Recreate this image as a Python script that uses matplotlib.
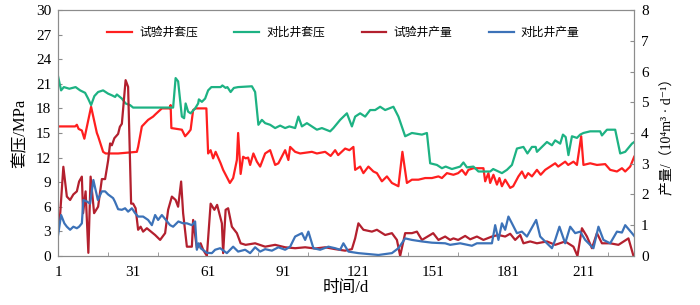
import matplotlib
matplotlib.use("Agg")
import matplotlib.pyplot as plt

# 试验井套压 (MPa)
tp_day = [1, 7.8, 8.5, 9.2, 10.5, 11.5, 14.2, 16.5, 17, 19, 20, 25, 29, 32.5, 33, 34.5, 37, 39, 40, 42.5,
          45.5, 46, 46.3, 50.5, 51.8, 53, 54, 55, 56, 60.3, 61, 62, 63, 64, 66, 67, 69, 69.7, 71, 72.5,
          73, 74, 75, 76, 77, 77.8, 79.1, 80.5, 81.8, 83.8, 85.8, 87.8, 89.1, 91.8, 93.1, 93.8, 95.8, 97.8,
          102.5, 104.5, 107.8, 110, 111.8, 113, 115.8, 117.5, 119.1, 119.8, 121.8, 123.1, 125.1, 127.1,
          128.5, 130.5, 132.5, 134.5, 137.1, 138.7, 140.5, 142.5, 145.1, 147.8, 150.5, 153.1, 154.5, 156.5,
          159.1, 161, 162.5, 164, 165.1, 167.1, 171.1, 171.8, 173.1, 173.8, 175.1, 176.5, 177.5, 178.5,
          179.8, 181.8, 183, 185.1, 186.5, 187.8, 189, 190.5, 192.5, 194, 195.8, 197.8, 199.8, 201, 203.8,
          205, 207.1, 208.5, 210.2, 211.1, 213.8, 216.5, 219.8, 221.8, 224.5, 226.5, 227.8, 229.8, 231.4]
tp_val = [15.8, 15.8, 16.0, 15.5, 15.3, 14.3, 18.2, 15.0, 14.6, 12.7, 12.5, 12.5, 12.6, 12.7, 13.3, 15.8, 16.6, 17.0, 17.3, 18.0,
          18.0, 18.4, 15.6, 15.4, 14.6, 15.0, 15.4, 17.8, 18.0, 18.0, 12.5, 12.9, 11.9, 12.7, 11.3, 10.5, 9.3, 8.9, 9.5, 11.7,
          15.0, 10.0, 12.1, 11.9, 12.0, 11.1, 12.5, 11.5, 10.9, 12.5, 12.9, 11.1, 11.3, 12.9, 11.7, 13.3, 12.7, 12.5,
          12.7, 12.5, 12.7, 12.2, 12.9, 12.3, 13.1, 12.9, 13.3, 10.5, 10.9, 10.1, 10.9, 10.3,
          10.1, 9.1, 9.7, 8.9, 8.5, 12.7, 8.9, 9.3, 9.3, 9.5, 9.5, 9.7, 9.5, 10.1,
          9.9, 10.1, 10.5, 9.9, 10.5, 10.7, 10.7, 9.1, 10.1, 8.9, 9.9, 8.7, 9.5, 8.5,
          9.3, 8.3, 8.5, 9.7, 10.3, 9.5, 10.1, 9.7, 10.5, 9.9, 10.5, 10.9, 11.3, 10.9, 11.5,
          11.1, 11.5, 11.1, 14.6, 11.1, 11.3, 11.1, 11.2, 10.5, 10.3, 10.7, 10.3, 10.9, 12.1]

# 对比井套压 (MPa)
cp_day = [1, 2.2, 3.3, 5.5, 8, 9.8, 11.8, 13, 14.2, 15.5, 17, 19, 21, 22.5, 23.8, 24.5, 26.5, 28, 29.8, 31,
          47, 48, 49, 50.5, 51.4, 52, 53, 54, 55.8, 57, 57.3, 58.5, 59.8, 61, 62.3, 66, 66.7, 68, 68.7, 70,
          71.3, 73, 78.5, 79.8, 81.1, 82.5, 83.8, 85.8, 87.8, 89.8, 91.8, 93.5, 95.8, 97.1, 98.5, 100.5,
          102.5, 104.5, 106.5, 109.8, 111.1, 113.8, 116.5, 118.5, 119.8, 121.8, 123.8, 125.8, 127.8, 129.8,
          131.8, 135.1, 137.1, 139.8, 142.5, 146.5, 148.5, 149.8, 152.5, 154.5, 156, 158.5, 161.8, 163.1,
          164.5, 167.1, 169.1, 173.8, 175, 178.5, 180.5, 182.5, 184.5, 187.1, 188.7, 190.5, 192, 192.5,
          194.5, 196.5, 198.5, 199.8, 201.8, 202.9, 204, 205.1, 206.5, 208.5, 209.8, 211.1, 213.8, 217.8,
          218.5, 220.5, 223.8, 225.8, 227.8, 230.5, 231.4]
cp_val = [21.9, 20.2, 20.6, 20.4, 20.6, 20.2, 19.9, 19.2, 18.4, 19.5, 20.0, 20.2, 19.8, 19.6, 19.4, 19.7, 19.2, 18.6, 18.4, 18.1,
          18.1, 21.7, 21.3, 17.0, 16.8, 18.6, 17.6, 17.4, 18.0, 18.6, 19.1, 18.8, 19.2, 20.2, 20.6, 20.6, 20.8, 20.5, 20.6, 20.0,
          20.5, 20.6, 20.7, 20.0, 16.0, 16.6, 16.2, 16.0, 15.6, 15.9, 15.6, 15.8, 15.6, 17.0, 15.8, 16.2,
          15.8, 15.4, 15.6, 15.2, 15.6, 16.6, 17.4, 15.8, 17.0, 17.4, 17.0, 17.8, 17.8, 18.2,
          17.8, 18.2, 17.0, 14.6, 15.0, 14.8, 15.0, 11.3, 11.1, 10.7, 10.9, 10.6, 10.9, 11.4,
          10.8, 10.9, 10.3, 10.3, 10.6, 10.1, 10.5, 11.1, 13.1, 13.3, 12.5, 13.3, 13.3, 12.7,
          13.3, 13.9, 13.5, 14.1, 13.7, 14.8, 14.5, 12.3, 14.6, 14.4, 14.8, 15.0, 15.2, 15.2,
          14.7, 15.4, 15.4, 12.5, 12.7, 13.7, 13.9]

# 试验井产量 (10^4 m3/d)
tq_day = [1, 1.8, 3.1, 4.5, 5.8, 7.1, 8.5, 9.4, 10.5, 11, 12, 13.1, 14, 15.4, 17, 18.5, 19.8, 21, 21.8, 22.5,
          23.5, 25, 25.7, 26.5, 28, 29, 30.2, 31, 32, 33, 34, 35, 36.5, 38, 39.8, 41.8, 43.8, 45, 46.5, 48,
          49, 50.2, 51, 52.5, 54.5, 55, 56.5, 58, 59, 60.5, 62, 63.5, 64.6, 66.5, 67, 68, 69, 70.5, 72.5, 74,
          76, 79.8, 83.8, 87.8, 91.8, 95.8, 99.8, 103.8, 107.8, 111.8, 115.8, 118.5, 119.8, 121.1, 123.1,
          126.5, 128.5, 131.8, 134.5, 136.5, 137.8, 139.8, 142.5, 144.5, 146.5, 149.8, 151, 153.1, 155.8,
          157.8, 159.1, 161, 163.8, 165.8, 168.5, 171.1, 174.5, 177.1, 179.8, 181.8, 183.8, 185.8, 187.1,
          189.8, 192.5, 196.5, 199.8, 203.8, 207.1, 208.7, 210.5, 212.5, 214.5, 216.5, 218.5, 221.8, 225.1,
          229.1, 231.1]
tq_val = [1.06, 1.33, 2.9, 1.93, 1.82, 2.0, 2.1, 2.42, 2.58, 1.39, 2.1, 0.1, 2.58, 1.39, 1.6, 2.5, 2.5, 3.1, 3.66, 3.6,
          3.83, 3.97, 4.2, 4.3, 5.72, 5.5, 1.7, 1.7, 1.55, 0.85, 0.95, 0.79, 0.9, 0.8, 0.68, 0.52, 0.74, 1.5, 1.93, 1.82,
          1.6, 2.42, 1.39, 0.3, 0.3, 1.17, 0.25, 0.41, 0.2, 0.0, 1.7, 1.5, 1.66, 1.06, 0.09, 1.5, 1.55, 0.95, 0.74, 0.41,
          0.36, 0.41, 0.3, 0.36, 0.28, 0.25, 0.28, 0.24, 0.28, 0.22, 0.17, 0.22, 0.57, 1.06, 0.85,
          0.79, 0.85, 0.68, 0.74, 0.52, 0.0, 0.74, 0.74, 0.79, 0.52, 0.68, 0.74, 0.52, 0.63,
          0.52, 0.57, 0.52, 0.65, 0.54, 0.63, 0.52, 0.63, 0.68, 0.63, 0.72, 0.52, 0.68, 0.41,
          0.47, 0.41, 0.47, 0.36, 0.47, 0.3, 0.0, 0.9, 0.63, 0.25, 0.74, 0.41, 0.41, 0.36,
          0.57, 0.0]

# 对比井产量 (10^4 m3/d)
cq_day = [1, 2.2, 3.5, 4.5, 5.8, 7.1, 8.5, 9.4, 10.5, 11.1, 12.5, 13.8, 15.1, 16.9, 18.5, 19.8, 21, 23, 23.7, 25,
          26.5, 27.8, 29, 30.5, 31.8, 33, 35, 37, 38.5, 39.8, 41, 42.5, 43.8, 45.8, 47, 49.1, 51, 52.5, 54.5,
          55.8, 56.5, 57.2, 58, 60.5, 62.5, 63.8, 65.8, 68.5, 71, 73, 75.8, 77.8, 79.8, 81.8, 83.8, 86.5,
          89.1, 91.8, 93.8, 95.8, 98.5, 99.8, 101.1, 103.1, 105.8, 109.1, 111.8, 113.8, 115.1, 117.1, 121.1,
          129.1, 134.5, 137.1, 139.8, 142.5, 146.5, 150.5, 155.8, 157.8, 161.8, 166.5, 168.5, 174.5, 175.8,
          177.1, 178.5, 179.8, 181.1, 182.5, 184.5, 186.5, 188.5, 192.2, 193.8, 196.5, 198.5, 199.8, 201.5,
          203.8, 205.8, 207.8, 209.8, 211.8, 215.1, 217.1, 219.1, 221.8, 224.5, 226.5, 227.8, 230.5, 231.4]
cq_val = [0.68, 1.33, 1.06, 0.95, 0.85, 0.95, 0.9, 0.95, 1.06, 1.82, 1.77, 1.7, 2.47, 1.82, 2.1, 2.1, 2.0, 1.88, 1.77, 1.52,
          1.5, 1.55, 1.44, 1.55, 1.39, 1.28, 1.28, 1.17, 1.0, 1.33, 1.17, 1.33, 1.2, 1.0, 0.95, 1.12, 1.06, 1.06, 1.0,
          1.12, 0.2, 0.41, 0.25, 0.1, 0.09, 0.2, 0.25, 0.09, 0.3, 0.14, 0.2, 0.09, 0.28, 0.14, 0.22, 0.17,
          0.28, 0.2, 0.3, 0.63, 0.74, 0.52, 0.79, 0.25, 0.2, 0.3, 0.25, 0.2, 0.41, 0.14, 0.09,
          0.03, 0.09, 0.25, 0.57, 0.52, 0.47, 0.43, 0.41, 0.36, 0.41, 0.33, 0.41, 0.41, 1.0,
          0.52, 1.06, 0.85, 1.28, 1.06, 0.74, 0.79, 0.63, 1.17, 0.63, 0.41, 0.25, 0.52, 0.95,
          0.41, 0.95, 0.74, 0.79, 0.52, 0.25, 0.95, 0.52, 0.41, 0.79, 0.76, 1.0, 0.74, 0.65]

x_labels = [1, 31, 61, 91, 121, 151, 181, 211]

plt.rcParams['font.family'] = ['Liberation Serif', 'Noto Sans CJK SC', 'DejaVu Serif']
plt.rcParams['axes.unicode_minus'] = False

fig, ax = plt.subplots(figsize=(7, 3.05), dpi=100)
fig.subplots_adjust(left=0.083, right=0.906, top=0.967, bottom=0.161)
ax2 = ax.twinx()

lw = 1.6
l1, = ax.plot(tp_day, tp_val, color='#FF1F1F', lw=lw, label='试验井套压')
l2, = ax.plot(cp_day, cp_val, color='#1DB283', lw=lw, label='对比井套压')
l3, = ax2.plot(tq_day, tq_val, color='#B3202E', lw=lw, label='试验井产量')
l4, = ax2.plot(cq_day, cq_val, color='#3C72B8', lw=lw, label='对比井产量')

ax.set_xlim(1, 231.4)
ax.set_ylim(0, 30)
ax2.set_ylim(0, 8)
ax.set_yticks(range(0, 31, 3))
ax2.set_yticks(range(0, 9))
ax.set_xticks(x_labels)
ax.set_xticks(range(1, 232, 20), minor=True)

for a in (ax, ax2):
    for s in a.spines.values():
        s.set_color('#8c8c8c')
ax.tick_params(axis='x', which='major', length=0, pad=7, labelsize=11)
ax.tick_params(axis='x', which='minor', direction='in', length=3, color='#8c8c8c')
ax.tick_params(axis='y', direction='in', length=3, color='#8c8c8c', labelsize=11, pad=5)
ax2.tick_params(axis='y', direction='in', length=3, color='#8c8c8c', labelsize=11, pad=5)

ax.set_xlabel('时间/d', fontsize=12, labelpad=1)
ax.set_ylabel('套压/MPa', fontsize=12, labelpad=5)
ax2.set_ylabel('产量/（10⁴m³ · d⁻¹）', fontsize=10, labelpad=9)

ax2.legend(handles=[l1, l2, l3, l4], loc='upper center', bbox_to_anchor=(0.495, 0.975),
           ncol=4, frameon=False, fontsize=8.5, handlelength=2.1, columnspacing=3.1,
           handletextpad=0.6)

plt.savefig('out.png', dpi=100)
